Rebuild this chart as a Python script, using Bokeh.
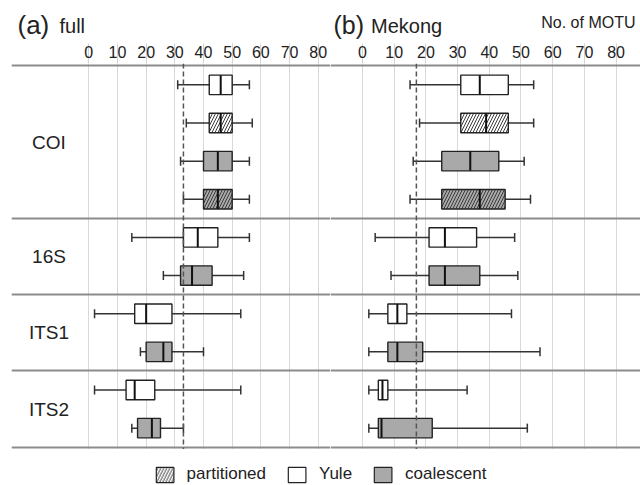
from bokeh.plotting import figure
from bokeh.models import (ColumnDataSource, FixedTicker, Span, Whisker, TeeHead,
                          Range1d, Legend, LegendItem)
from bokeh.layouts import column, row
from bokeh.embed import file_html
from bokeh.resources import INLINE
from bokeh.core.properties import value

FONT = "Liberation Sans"

# ---------------- data ----------------
markers = ["COI", "16S", "ITS1", "ITS2"]
marker_rows = [4, 2, 2, 2]
row_method = ["Yule", "Yule", "coalescent", "coalescent",
              "Yule", "coalescent", "Yule", "coalescent", "Yule", "coalescent"]
row_partitioned = [False, True, False, True, False, False, False, False, False, False]
ticks = [0, 10, 20, 30, 40, 50, 60, 70, 80]
legend_labels = ["partitioned", "Yule", "coalescent"]

# (a) full
full_low = [31, 34, 32, 33, 15, 26, 2, 18, 2, 15]
full_q1 = [42, 42, 40, 40, 33, 32, 16, 20, 13, 17]
full_med = [46, 46, 45, 45, 38, 36, 20, 26, 16, 22]
full_q3 = [50, 50, 50, 50, 45, 43, 29, 29, 23, 25]
full_high = [56, 57, 56, 56, 56, 54, 53, 40, 53, 33]
full_threshold = 33

# (b) Mekong
mekong_low = [15, 18, 16, 15, 4, 9, 2, 2, 2, 2]
mekong_q1 = [31, 31, 25, 25, 21, 21, 8, 8, 5, 5]
mekong_med = [37, 39, 34, 37, 26, 26, 11, 11, 6.3, 6]
mekong_q3 = [46, 46, 43, 45, 36, 37, 14, 19, 8, 22]
mekong_high = [54, 54, 51, 53, 48, 49, 47, 56, 33, 52]
mekong_threshold = 17

# header texts
header_texts = ["(a)", "full", "(b)", "Mekong", "No. of MOTU"]

# ---------------- derived helpers ----------------
GRAY = "#a9a9a9"
HATCH_COLOR = "#3a3a3a"
TEXT = "#222222"
BOX_HALF = 0.255
n_rows = len(row_method)
ys = [i + 0.5 for i in range(n_rows)]
separators = [0]
for n in marker_rows:
    separators.append(separators[-1] + n)
section_centers = [(separators[i] + separators[i + 1]) / 2 for i in range(len(markers))]
fills = ["white" if m == "Yule" else GRAY for m in row_method]
hatches = ["/" if p else " " for p in row_partitioned]


def make_panel(width, border_left, x_start, x_end, low, q1, med, q3, high, threshold):
    p = figure(width=width, height=408, x_range=Range1d(x_start, x_end),
               y_range=Range1d(10.06, -0.06), toolbar_location=None,
               output_backend="svg", x_axis_location="above", y_axis_location=None,
               min_border_left=border_left, min_border_right=0, min_border_top=22,
               min_border_bottom=0)
    p.outline_line_color = None
    p.background_fill_color = "white"
    p.border_fill_color = "white"

    ax = p.xaxis[0]
    ax.ticker = FixedTicker(ticks=ticks)
    ax.axis_line_color = None
    ax.major_tick_line_color = "#d4d4d4"
    ax.major_tick_line_width = 1
    ax.major_tick_out = 20
    ax.major_tick_in = 0
    ax.minor_tick_line_color = None
    ax.major_label_standoff = -14
    ax.major_label_text_font = FONT
    ax.major_label_text_font_size = "16px"
    ax.major_label_text_color = TEXT

    p.xgrid.ticker = FixedTicker(ticks=ticks)
    p.xgrid.grid_line_color = "#d9d9d9"
    p.xgrid.grid_line_width = 1
    p.ygrid.ticker = FixedTicker(ticks=separators)
    p.ygrid.grid_line_color = "#8c8c8c"
    p.ygrid.grid_line_width = 2

    src = ColumnDataSource(dict(
        y=ys, low=low, q1=q1, med=med, q3=q3, high=high,
        box_top=[y - BOX_HALF for y in ys], box_bot=[y + BOX_HALF for y in ys],
        fill=fills, hatch=hatches))

    w = Whisker(source=src, base="y", lower="low", upper="high", dimension="width",
                line_color="#333333", line_width=1.5, level="underlay",
                lower_head=TeeHead(size=9, line_color="#333333", line_width=1.5),
                upper_head=TeeHead(size=9, line_color="#333333", line_width=1.5))
    p.add_layout(w)

    p.quad(left="q1", right="q3", top="box_top", bottom="box_bot", source=src,
           fill_color="fill", line_color="#222222", line_width=1.4,
           hatch_pattern="hatch", hatch_color=HATCH_COLOR, hatch_scale=6,
           hatch_weight=1)
    p.segment(x0="med", x1="med", y0="box_top", y1="box_bot", source=src,
              line_color="#111111", line_width=2)

    p.add_layout(Span(location=threshold, dimension="height", line_color="#555555",
                      line_dash="5 3", line_width=1.5))
    return p


p1 = make_panel(330, 11, -26.96, 84.29, full_low, full_q1, full_med, full_q3,
                full_high, full_threshold)
p2 = make_panel(310, 0, -10.09, 87.7, mekong_low, mekong_q1, mekong_med, mekong_q3,
                mekong_high, mekong_threshold)

p1.text(x=[-13.88] * len(markers), y=section_centers, text=markers,
        text_font=value(FONT), text_font_size="19px", text_align="center",
        text_baseline="middle", text_color=TEXT)

# ---------------- header ----------------
p0 = figure(width=640, height=41, x_range=Range1d(0, 640), y_range=Range1d(41, 0),
            toolbar_location=None, output_backend="svg", x_axis_location=None,
            y_axis_location=None, min_border=0)
p0.outline_line_color = None
p0.xgrid.visible = False
p0.ygrid.visible = False
hdr = ColumnDataSource(dict(
    x=[17, 59, 333, 370.5, 635], y=[24.5, 25, 24.5, 25, 22], text=header_texts,
    size=["26px", "20px", "25px", "20px", "16px"],
    align=["left", "left", "left", "left", "right"]))
p0.text(x="x", y="y", text="text", source=hdr, text_font=value(FONT),
        text_font_size="size", text_align="align", text_baseline="middle",
        text_color=TEXT)

# ---------------- legend ----------------
p3 = figure(width=640, height=35, x_range=Range1d(0, 1), y_range=Range1d(0, 1),
            toolbar_location=None, output_backend="svg", x_axis_location=None,
            y_axis_location=None, min_border=0)
p3.outline_line_color = None
p3.xgrid.visible = False
p3.ygrid.visible = False
# legend swatches: single off-screen entries so the legend can draw their glyphs
off = dict(left=[-3], right=[-2], top=[-2], bottom=[-3])
r_part = p3.quad(**off, fill_color="white", line_color="#222222", line_width=1.2,
                 hatch_pattern="/", hatch_color=HATCH_COLOR, hatch_scale=6,
                 hatch_weight=1)
r_yule = p3.quad(**off, fill_color="white", line_color="#222222", line_width=1.2)
r_coal = p3.quad(**off, fill_color=GRAY, line_color="#222222", line_width=1.2)
legend = Legend(items=[LegendItem(label=legend_labels[0], renderers=[r_part]),
                       LegendItem(label=legend_labels[1], renderers=[r_yule]),
                       LegendItem(label=legend_labels[2], renderers=[r_coal])],
                orientation="horizontal", location="bottom_center", margin=0,
                padding=0, spacing=20, glyph_width=22, glyph_height=19,
                label_height=19, label_standoff=11, label_text_font=FONT,
                label_text_font_size="17px", label_text_color=TEXT,
                border_line_color=None, background_fill_alpha=0)
p3.add_layout(legend)

layout = column(p0, row(p1, p2), p3)
open("out.html", "w").write(file_html(layout, INLINE))
